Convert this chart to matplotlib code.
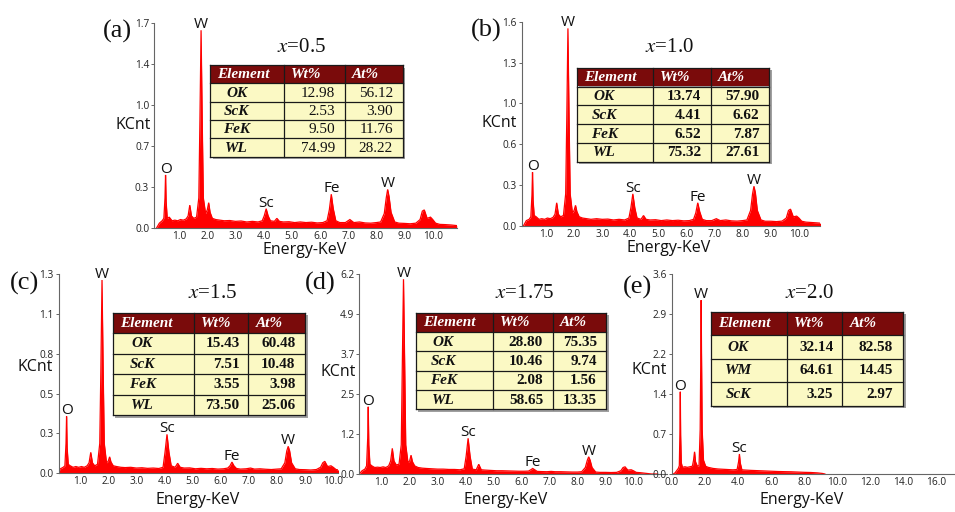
import numpy as np
import matplotlib
matplotlib.use('Agg')
import matplotlib.pyplot as plt
from matplotlib.patches import Rectangle

plt.rcParams['font.family'] = ['Open Sans', 'DejaVu Sans']
plt.rcParams['mathtext.fontset'] = 'stix'

# ---------------- data ----------------
# shared energy grid (keV) for panels (a)-(d)
energy = [0.20, 0.30, 0.40, 0.46, 0.50, 0.52, 0.54, 0.58, 0.65, 0.75,
          0.85, 0.95, 1.05, 1.15, 1.25, 1.32, 1.38, 1.44, 1.52, 1.62,
          1.70, 1.74, 1.78, 1.82, 1.86, 1.94, 2.00, 2.05, 2.10, 2.18,
          2.30, 2.45, 2.60, 2.80, 3.00, 3.20, 3.40, 3.60, 3.80, 3.95,
          4.02, 4.09, 4.16, 4.24, 4.38, 4.47, 4.56, 4.70, 4.90, 5.10,
          5.30, 5.50, 5.70, 5.90, 6.10, 6.25, 6.33, 6.40, 6.47, 6.56,
          6.70, 6.90, 7.06, 7.20, 7.40, 7.60, 7.80, 8.00, 8.15, 8.28,
          8.35, 8.40, 8.45, 8.52, 8.65, 8.80, 9.00, 9.20, 9.40, 9.55,
          9.63, 9.70, 9.80, 9.92, 10.00, 10.10, 10.25, 10.45, 10.65, 10.85]

counts_a = [0.0, 0.04, 0.06, 0.08, 0.25, 0.44, 0.22, 0.08, 0.09, 0.06,
            0.065, 0.06, 0.07, 0.065, 0.075, 0.10, 0.19, 0.10, 0.08, 0.09,
            0.25, 0.90, 1.64, 0.90, 0.25, 0.12, 0.15, 0.21, 0.13, 0.08,
            0.07, 0.065, 0.06, 0.062, 0.055, 0.058, 0.05, 0.055, 0.05, 0.06,
            0.10, 0.16, 0.10, 0.06, 0.055, 0.08, 0.055, 0.05, 0.052, 0.045,
            0.05, 0.045, 0.048, 0.042, 0.045, 0.06, 0.15, 0.28, 0.16, 0.06,
            0.045, 0.045, 0.07, 0.045, 0.05, 0.042, 0.04, 0.045, 0.05, 0.12,
            0.25, 0.32, 0.26, 0.13, 0.05, 0.04, 0.038, 0.035, 0.04, 0.07,
            0.14, 0.15, 0.08, 0.09, 0.07, 0.04, 0.03, 0.028, 0.025, 0.02]

counts_b = [0.0, 0.04, 0.05, 0.07, 0.24, 0.42, 0.20, 0.08, 0.07, 0.05,
            0.055, 0.05, 0.06, 0.055, 0.065, 0.09, 0.18, 0.09, 0.07, 0.08,
            0.25, 0.85, 1.55, 0.85, 0.25, 0.10, 0.12, 0.16, 0.11, 0.07,
            0.06, 0.055, 0.05, 0.055, 0.05, 0.052, 0.045, 0.05, 0.045, 0.06,
            0.14, 0.25, 0.14, 0.06, 0.05, 0.08, 0.05, 0.045, 0.047, 0.04,
            0.045, 0.04, 0.043, 0.038, 0.04, 0.05, 0.10, 0.18, 0.11, 0.05,
            0.04, 0.04, 0.055, 0.04, 0.045, 0.038, 0.036, 0.04, 0.045, 0.12,
            0.25, 0.31, 0.26, 0.12, 0.045, 0.035, 0.035, 0.032, 0.036, 0.06,
            0.12, 0.13, 0.07, 0.075, 0.06, 0.035, 0.028, 0.025, 0.022, 0.018]

counts_c = [0.0, 0.03, 0.04, 0.05, 0.20, 0.38, 0.17, 0.06, 0.05, 0.04,
            0.045, 0.04, 0.045, 0.04, 0.05, 0.07, 0.14, 0.07, 0.05, 0.06,
            0.20, 0.70, 1.29, 0.70, 0.20, 0.07, 0.08, 0.11, 0.075, 0.05,
            0.045, 0.04, 0.038, 0.04, 0.035, 0.037, 0.033, 0.035, 0.032, 0.04,
            0.14, 0.26, 0.14, 0.05, 0.04, 0.067, 0.04, 0.035, 0.036, 0.03,
            0.033, 0.03, 0.032, 0.028, 0.03, 0.035, 0.05, 0.075, 0.05, 0.032,
            0.028, 0.03, 0.035, 0.028, 0.03, 0.027, 0.025, 0.028, 0.03, 0.07,
            0.15, 0.18, 0.15, 0.07, 0.03, 0.025, 0.024, 0.022, 0.025, 0.04,
            0.07, 0.08, 0.045, 0.05, 0.04, 0.025, 0.02, 0.018, 0.015, 0.012]

counts_d = [0.0, 0.10, 0.15, 0.25, 1.10, 2.07, 0.90, 0.30, 0.25, 0.20,
            0.21, 0.20, 0.22, 0.20, 0.25, 0.40, 0.79, 0.40, 0.28, 0.30,
            0.90, 3.50, 6.00, 3.50, 0.90, 0.35, 0.40, 0.58, 0.38, 0.25,
            0.20, 0.18, 0.17, 0.16, 0.15, 0.15, 0.14, 0.14, 0.13, 0.16,
            0.55, 1.10, 0.55, 0.15, 0.13, 0.30, 0.13, 0.12, 0.11, 0.10,
            0.10, 0.095, 0.09, 0.085, 0.085, 0.09, 0.13, 0.17, 0.13, 0.08,
            0.075, 0.07, 0.08, 0.07, 0.07, 0.065, 0.06, 0.06, 0.07, 0.20,
            0.42, 0.53, 0.43, 0.20, 0.06, 0.05, 0.05, 0.045, 0.05, 0.10,
            0.20, 0.22, 0.12, 0.13, 0.10, 0.05, 0.04, 0.02, 0.0, 0.0]

energy_e = [0.10, 0.20, 0.30, 0.40, 0.46, 0.50, 0.52, 0.54, 0.58, 0.65,
            0.80, 0.95, 1.10, 1.25, 1.32, 1.38, 1.44, 1.55, 1.65, 1.72,
            1.76, 1.78, 1.80, 1.84, 1.92, 2.05, 2.20, 2.50, 2.80, 3.10,
            3.40, 3.70, 3.95, 4.04, 4.09, 4.14, 4.24, 4.50, 4.80, 5.20,
            5.60, 6.00, 6.40, 6.80, 7.20, 7.60, 8.00, 8.40, 8.80, 9.10, 9.25]
counts_e = [0.0, 0.02, 0.06, 0.10, 0.15, 0.80, 1.48, 0.70, 0.20, 0.12,
            0.13, 0.12, 0.13, 0.14, 0.25, 0.40, 0.22, 0.14, 0.15, 0.80,
            2.20, 3.13, 2.20, 0.80, 0.25, 0.14, 0.12, 0.10, 0.09, 0.085,
            0.08, 0.075, 0.08, 0.22, 0.36, 0.20, 0.075, 0.07, 0.065, 0.06,
            0.055, 0.05, 0.045, 0.042, 0.04, 0.035, 0.03, 0.027, 0.02, 0.01, 0.0]

panel_labels = ['(a)', '(b)', '(c)', '(d)', '(e)']
compositions = ['0.5', '1.0', '1.5', '1.75', '2.0']
ymax_values = [1.7, 1.6, 1.33, 6.16, 3.6]
ytick_labels_a = ['0.0', '0.3', '0.7', '1.0', '1.4', '1.7']
ytick_labels_b = ['0.0', '0.3', '0.6', '1.0', '1.3', '1.6']
ytick_labels_c = ['0.0', '0.3', '0.5', '0.8', '1.1', '1.3']
ytick_labels_d = ['0.0', '1.2', '2.5', '3.7', '4.9', '6.2']
ytick_labels_e = ['0.0', '0.7', '1.4', '2.2', '2.9', '3.6']
xticks_ad = [1.0, 2.0, 3.0, 4.0, 5.0, 6.0, 7.0, 8.0, 9.0, 10.0]
xticks_e = [0.0, 2.0, 4.0, 6.0, 8.0, 10.0, 12.0, 14.0, 16.0]

peak_names_ad = ['O', 'W', 'Sc', 'Fe', 'W']
peak_energy_ad = [0.52, 1.78, 4.09, 6.40, 8.40]
peak_names_e = ['O', 'W', 'Sc']
peak_energy_e = [0.52, 1.78, 4.09]

table_header = ['Element', 'Wt%', 'At%']
elements_a = ['OK', 'ScK', 'FeK', 'WL']
wt_a = [12.98, 2.53, 9.50, 74.99]
at_a = [56.12, 3.90, 11.76, 28.22]
elements_b = ['OK', 'ScK', 'FeK', 'WL']
wt_b = [13.74, 4.41, 6.52, 75.32]
at_b = [57.90, 6.62, 7.87, 27.61]
elements_c = ['OK', 'ScK', 'FeK', 'WL']
wt_c = [15.43, 7.51, 3.55, 73.50]
at_c = [60.48, 10.48, 3.98, 25.06]
elements_d = ['OK', 'ScK', 'FeK', 'WL']
wt_d = [28.80, 10.46, 2.08, 58.65]
at_d = [75.35, 9.74, 1.56, 13.35]
elements_e = ['OK', 'WM', 'ScK']
wt_e = [32.14, 64.61, 3.25]
at_e = [82.58, 14.45, 2.97]

# ---------------- layout (pixels) ----------------
W, H = 955, 512
SPEC = '#ff0000'
HEADER = '#7a0b0b'
BODY = '#fbf9c4'
SPINE = '#666666'
SERIF = ['Liberation Serif', 'DejaVu Serif']

panels = [
    dict(x=energy, y=counts_a, yt=ytick_labels_a, xt=xticks_ad, pn=peak_names_ad, pe=peak_energy_ad,
         rect=(154, 23, 457, 228), xlim=(0.11, 10.86),
         tab=(elements_a, wt_a, at_a), tcols=[210, 284, 345, 402.7], ttop=65, tbot=156.7, bold=False,
         lab=(117, 31), title=(301, 48), kc=(133.5, 125), ek=(305, 250)),
    dict(x=energy, y=counts_b, yt=ytick_labels_b, xt=xticks_ad, pn=peak_names_ad, pe=peak_energy_ad,
         rect=(521.7, 22, 820, 225.7), xlim=(0.135, 10.75),
         tab=(elements_b, wt_b, at_b), tcols=[576.7, 652.7, 710.7, 769.3], ttop=67.7, tbot=161.7, bold=True,
         lab=(486, 30), title=(669, 48), kc=(499, 123), ek=(668.5, 248)),
    dict(x=energy, y=counts_c, yt=ytick_labels_c, xt=xticks_ad, pn=peak_names_ad, pe=peak_energy_ad,
         rect=(58.7, 274, 338, 473.3), xlim=(0.24, 10.17),
         tab=(elements_c, wt_c, at_c), tcols=[112.7, 194.3, 248.3, 305], ttop=312.7, tbot=415, bold=True,
         lab=(24, 283), title=(212, 293), kc=(35.5, 367), ek=(198, 500)),
    dict(x=energy, y=counts_d, yt=ytick_labels_d, xt=xticks_ad, pn=peak_names_ad, pe=peak_energy_ad,
         rect=(359.3, 274, 667, 474), xlim=(0.2, 11.2),
         tab=(elements_d, wt_d, at_d), tcols=[415.7, 492.7, 552.7, 606], ttop=312.7, tbot=409.3, bold=True,
         lab=(320, 283), title=(525, 293), kc=(338, 372), ek=(505.5, 500)),
    dict(x=energy_e, y=counts_e, yt=ytick_labels_e, xt=xticks_e, pn=peak_names_e, pe=peak_energy_e,
         rect=(671.7, 274, 954, 474), xlim=(0.0, 17.05),
         tab=(elements_e, wt_e, at_e), tcols=[710.7, 786.7, 842.3, 903.3], ttop=311.7, tbot=405.7, bold=True,
         lab=(637, 287), title=(809, 293), kc=(649, 370), ek=(801.7, 500)),
]

fig = plt.figure(figsize=(W / 100, H / 100), dpi=100)
fig.patch.set_facecolor('white')

for i, p in enumerate(panels):
    l, t, r, b = p['rect']
    ax = fig.add_axes([l / W, (H - b) / H, (r - l) / W, (b - t) / H])
    x = np.array(p['x'])
    y = np.array(p['y'])
    ax.fill_between(x, 0, y, color=SPEC, lw=0, zorder=2)
    ax.plot(x, y, color=SPEC, lw=0.9, zorder=2, solid_joinstyle='miter')
    ymax = ymax_values[i]
    ax.set_xlim(*p['xlim'])
    ax.set_ylim(0, ymax)
    ax.set_yticks(np.linspace(0, ymax, len(p['yt'])))
    ax.set_yticklabels(p['yt'])
    ax.set_xticks(p['xt'])
    ax.set_xticklabels(['%.1f' % v for v in p['xt']])
    ax.tick_params(axis='y', length=2.5, width=0.7, color=SPINE, pad=1.0, labelsize=7.3, labelcolor='#222222')
    ax.tick_params(axis='x', length=0, pad=2.3, labelsize=7.3, labelcolor='#222222')
    for s in ['top', 'right']:
        ax.spines[s].set_visible(False)
    for s in ['left', 'bottom']:
        ax.spines[s].set_color(SPINE)
        ax.spines[s].set_linewidth(0.8)
    ax.patch.set_alpha(0)
    # peak labels
    for name, e in zip(p['pn'], p['pe']):
        m = np.abs(x - e) <= 0.03
        top = y[m].max()
        ax.annotate(name, (e, top), xytext=(0, 1.5), textcoords='offset points',
                    ha='center', va='baseline', fontsize=11, color='#111111', zorder=4,
                    annotation_clip=False)
    # axis labels
    kx, ky = p['kc']
    ax.set_ylabel('KCnt', rotation=0, fontsize=11.5, ha='center', va='center', color='#111111')
    ax.yaxis.set_label_coords((kx - l) / (r - l), (b - ky) / (b - t))
    ex, ey = p['ek']
    ax.set_xlabel('Energy-KeV', fontsize=11.5, ha='center', va='center', color='#111111')
    ax.xaxis.set_label_coords((ex - l) / (r - l), (b - ey) / (b - t))

# overlay for tables / titles in pixel coordinates
ov = fig.add_axes([0, 0, 1, 1])
ov.set_xlim(0, W)
ov.set_ylim(H, 0)
ov.axis('off')
ov.patch.set_visible(False)


def draw_table(cols, top, bottom, names, wt, at, bold):
    nrows = len(names) + 1
    rh = (bottom - top) / nrows
    left, right = cols[0], cols[-1]
    ov.add_patch(Rectangle((left + 2.5, top + 2.5), right - left, bottom - top,
                           fc='#a0a0a0', ec='none', zorder=1))
    ov.add_patch(Rectangle((left, top), right - left, rh, fc=HEADER, ec='none', zorder=2))
    ov.add_patch(Rectangle((left, top + rh), right - left, bottom - top - rh, fc=BODY, ec='none', zorder=2))
    for k in range(nrows + 1):
        ov.plot([left, right], [top + k * rh] * 2, color='#1a1a1a', lw=0.9, zorder=3,
                solid_capstyle='projecting')
    for c in cols:
        ov.plot([c, c], [top, bottom], color='#1a1a1a', lw=0.9, zorder=3, solid_capstyle='projecting')
    for j, h in enumerate(table_header):
        ov.text(cols[j] + 7, top + rh / 2 + 0.5, h, ha='left', va='center', color='white',
                fontsize=11, fontweight='bold', fontstyle='italic', family=SERIF, zorder=4)
    numw = 'bold' if bold else 'normal'
    for k in range(len(names)):
        yc = top + (k + 1.5) * rh + 0.5
        ov.text(cols[0] + 0.36 * (cols[1] - cols[0]), yc, names[k], ha='center', va='center',
                fontsize=11, fontweight='bold', fontstyle='italic', family=SERIF, color='#111111', zorder=4)
        ov.text(cols[2] - 0.16 * (cols[2] - cols[1]), yc, '%.2f' % wt[k], ha='right', va='center',
                fontsize=11, fontweight=numw, family=SERIF, color='#111111', zorder=4)
        ov.text(cols[3] - 0.17 * (cols[3] - cols[2]), yc, '%.2f' % at[k], ha='right', va='center',
                fontsize=11, fontweight=numw, family=SERIF, color='#111111', zorder=4)


for i, p in enumerate(panels):
    names, wt, at = p['tab']
    draw_table(p['tcols'], p['ttop'], p['tbot'], names, wt, at, p['bold'])
    lx, ly = p['lab']
    ov.text(lx, ly, panel_labels[i], ha='center', va='center', fontsize=19, family=SERIF, color='#111111')
    tx, ty = p['title']
    ov.text(tx, ty, r'$x$=' + compositions[i], ha='center', va='center', fontsize=15,
            family=SERIF, color='#111111')

fig.savefig('out.png', dpi=100, facecolor='white')
